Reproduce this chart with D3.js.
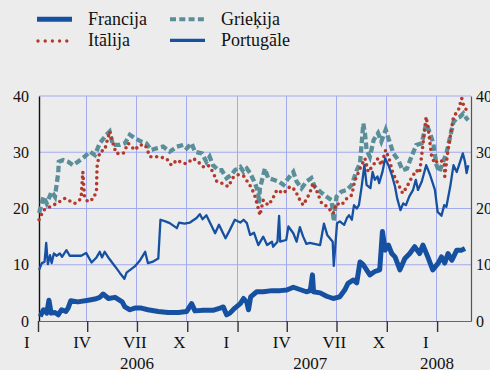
<!DOCTYPE html>
<html>
<head>
<meta charset="utf-8">
<script src="https://cdn.jsdelivr.net/npm/d3@7/dist/d3.min.js"></script>
<style>
  html, body { margin: 0; padding: 0; background: #ececec; }
  svg { display: block; }
  text { font-family: "Liberation Serif", "Times New Roman", serif; fill: #111; }
</style>
</head>
<body>
<svg id="chart" width="490" height="370"></svg>
<script>
// Spreads against the German benchmark, percentage points
const francija = [
  ["2006-01-05",0.8],["2006-01-11",2.0],["2006-01-17",1.4],["2006-01-21",3.7],["2006-01-25",1.4],
  ["2006-02-01",1.5],["2006-02-07",1.1],["2006-02-13",2.0],["2006-02-21",1.7],["2006-02-25",2.3],
  ["2006-03-02",3.6],["2006-03-15",3.4],["2006-04-03",3.7],["2006-04-15",3.9],["2006-04-24",4.2],
  ["2006-04-30",4.8],["2006-05-10",4.0],["2006-05-22",4.2],["2006-06-04",3.4],["2006-06-09",2.5],
  ["2006-06-18",2.0],["2006-06-27",2.3],["2006-07-09",2.3],["2006-07-21",2.0],["2006-08-09",1.7],
  ["2006-08-27",1.5],["2006-09-15",1.5],["2006-09-30",1.7],["2006-10-09",3.1],["2006-10-15",1.8],
  ["2006-10-30",1.9],["2006-11-17",1.9],["2006-11-30",2.3],["2006-12-06",2.5],["2006-12-12",1.1],
  ["2006-12-18",1.4],["2006-12-27",2.3],["2007-01-06",3.1],["2007-01-12",4.0],["2007-01-18",3.3],
  ["2007-01-21",2.0],["2007-01-25",4.3],["2007-02-05",5.2],["2007-02-17",5.2],["2007-03-05",5.4],
  ["2007-03-20",5.4],["2007-04-01",5.5],["2007-04-13",6.0],["2007-04-25",5.6],["2007-05-07",5.2],
  ["2007-05-14",5.4],["2007-05-18",8.2],["2007-05-20",5.2],["2007-06-01",5.0],["2007-06-13",4.4],
  ["2007-06-25",4.0],["2007-07-07",4.3],["2007-07-16",5.5],["2007-07-22",6.7],["2007-08-01",7.3],
  ["2007-08-07",6.8],["2007-08-13",10.5],["2007-08-19",10.0],["2007-08-25",9.1],["2007-08-31",8.2],
  ["2007-09-09",8.8],["2007-09-18",9.1],["2007-09-23",15.9],["2007-09-28",12.6],["2007-10-04",13.5],
  ["2007-10-10",12.0],["2007-10-16",11.4],["2007-10-25",9.1],["2007-11-03",11.1],["2007-11-12",12.0],
  ["2007-11-21",13.2],["2007-11-30",12.0],["2007-12-06",13.5],["2007-12-15",11.4],["2007-12-24",9.1],
  ["2008-01-03",10.3],["2008-01-09",11.4],["2008-01-15",10.3],["2008-01-21",12.0],["2008-01-28",10.8],
  ["2008-02-06",12.6],["2008-02-15",12.6],["2008-02-21",12.9]
];

const italija = [
  ["2006-01-03",18.0],["2006-01-11",19.7],["2006-01-23",20.3],["2006-02-04",20.9],["2006-02-19",21.8],
  ["2006-03-03",21.2],["2006-03-09",20.9],["2006-03-18",21.5],["2006-03-21",22.1],["2006-03-24",26.5],
  ["2006-03-27",22.1],["2006-04-02",21.2],["2006-04-13",21.8],["2006-04-18",23.3],["2006-04-19",27.4],
  ["2006-04-24",30.1],["2006-05-03",30.4],["2006-05-12",33.7],["2006-05-18",31.6],["2006-05-24",29.8],
  ["2006-06-06",29.8],["2006-06-15",31.6],["2006-06-27",30.4],["2006-07-06",31.3],["2006-07-16",31.3],
  ["2006-07-25",29.2],["2006-08-09",29.2],["2006-08-24",28.9],["2006-09-02",27.7],["2006-09-12",28.6],
  ["2006-09-24",28.0],["2006-09-30",28.0],["2006-10-12",28.9],["2006-10-21",28.3],["2006-10-30",27.4],
  ["2006-11-08",27.7],["2006-11-17",26.5],["2006-11-24",24.8],["2006-12-03",24.5],["2006-12-15",23.9],
  ["2006-12-24",25.5],["2007-01-02",26.0],["2007-01-12",25.8],["2007-01-21",24.5],["2007-01-27",23.6],
  ["2007-02-02",22.1],["2007-02-08",20.0],["2007-02-11",18.8],["2007-02-17",21.5],["2007-02-26",20.6],
  ["2007-03-05",21.5],["2007-03-14",23.3],["2007-03-26",22.7],["2007-04-07",23.9],["2007-04-16",23.3],
  ["2007-04-25",21.5],["2007-05-01",20.6],["2007-05-13",22.7],["2007-05-19",24.5],["2007-05-25",23.3],
  ["2007-06-04",20.9],["2007-06-13",20.4],["2007-06-25",19.1],["2007-07-01",20.9],["2007-07-10",20.6],
  ["2007-07-20",21.8],["2007-07-29",22.4],["2007-08-03",24.8],["2007-08-13",27.1],["2007-08-22",28.9],
  ["2007-08-28",26.5],["2007-09-06",27.7],["2007-09-15",28.9],["2007-09-21",27.7],["2007-09-29",30.4],
  ["2007-10-06",28.6],["2007-10-12",26.3],["2007-10-21",24.5],["2007-10-30",22.7],["2007-11-07",23.9],
  ["2007-11-15",25.4],["2007-11-24",26.8],["2007-11-30",26.3],["2007-12-12",36.3],["2007-12-16",34.0],
  ["2007-12-22",29.2],["2007-12-28",28.0],["2008-01-03",28.6],["2008-01-14",28.3],["2008-01-15",25.7],
  ["2008-01-21",30.4],["2008-01-31",36.3],["2008-02-09",37.5],["2008-02-15",39.6],["2008-02-19",38.1],
  ["2008-02-24",37.5]
];

const griekija = [
  ["2006-01-03",19.2],["2006-01-11",22.1],["2006-01-17",20.9],["2006-01-26",23.0],["2006-02-01",22.1],
  ["2006-02-07",26.3],["2006-02-08",28.3],["2006-02-16",28.6],["2006-02-25",28.3],["2006-03-06",27.7],
  ["2006-03-15",28.3],["2006-03-27",29.2],["2006-04-06",30.1],["2006-04-15",29.5],["2006-04-24",31.6],
  ["2006-05-06",33.1],["2006-05-12",33.7],["2006-05-18",31.3],["2006-05-31",31.3],["2006-06-09",31.6],
  ["2006-06-18",33.1],["2006-06-27",32.5],["2006-07-09",31.9],["2006-07-18",31.6],["2006-07-27",30.4],
  ["2006-08-06",30.7],["2006-08-18",31.0],["2006-08-30",30.1],["2006-09-12",31.0],["2006-09-24",31.3],
  ["2006-09-30",30.7],["2006-10-09",31.6],["2006-10-15",30.1],["2006-10-28",29.8],["2006-11-05",28.3],
  ["2006-11-11",29.2],["2006-11-17",27.7],["2006-11-27",26.8],["2006-12-03",26.8],["2006-12-12",25.4],
  ["2006-12-21",26.0],["2006-12-27",26.8],["2007-01-06",27.4],["2007-01-12",26.5],["2007-01-18",27.1],
  ["2007-01-24",26.3],["2007-02-02",24.5],["2007-02-08",22.7],["2007-02-09",20.9],["2007-02-11",23.6],
  ["2007-02-20",27.1],["2007-02-26",25.4],["2007-03-08",25.1],["2007-03-17",24.8],["2007-03-26",24.2],
  ["2007-04-04",25.4],["2007-04-13",26.5],["2007-04-19",24.8],["2007-04-28",23.6],["2007-05-07",24.8],
  ["2007-05-16",25.4],["2007-05-22",23.9],["2007-06-01",23.0],["2007-06-13",22.1],["2007-06-22",21.5],
  ["2007-06-26",17.7],["2007-07-01",22.1],["2007-07-10",23.0],["2007-07-20",23.3],["2007-07-29",24.2],
  ["2007-08-07",26.8],["2007-08-13",28.0],["2007-08-19",35.1],["2007-08-22",33.4],["2007-08-25",30.4],
  ["2007-08-31",29.2],["2007-09-07",32.2],["2007-09-15",33.4],["2007-09-21",31.9],["2007-09-29",34.0],
  ["2007-10-06",31.9],["2007-10-13",29.8],["2007-10-22",28.6],["2007-10-30",26.8],["2007-11-07",27.1],
  ["2007-11-15",29.2],["2007-11-24",31.3],["2007-12-04",31.6],["2007-12-12",35.1],["2007-12-19",33.4],
  ["2007-12-25",31.6],["2007-12-31",27.7],["2008-01-05",26.5],["2008-01-12",28.3],["2008-01-18",29.8],
  ["2008-01-25",32.8],["2008-01-31",35.4],["2008-02-06",36.0],["2008-02-12",36.3],["2008-02-18",36.9],
  ["2008-02-24",36.0],["2008-02-27",35.7]
];

const portugale = [
  ["2006-01-03",9.1],["2006-01-08",10.3],["2006-01-13",10.5],["2006-01-16",13.9],["2006-01-19",10.1],
  ["2006-01-23",11.7],["2006-01-26",10.3],["2006-01-30",12.0],["2006-02-04",11.6],["2006-02-10",12.0],
  ["2006-02-14",11.4],["2006-02-22",12.6],["2006-02-28",11.6],["2006-03-21",11.6],["2006-03-30",12.1],
  ["2006-04-09",10.4],["2006-04-18",11.3],["2006-04-24",12.3],["2006-04-28",11.3],["2006-05-03",12.3],
  ["2006-05-11",11.1],["2006-05-22",9.7],["2006-05-31",8.5],["2006-06-08",7.5],["2006-06-12",8.6],
  ["2006-06-27",9.7],["2006-07-06",10.7],["2006-07-16",12.3],["2006-07-21",10.3],["2006-07-29",10.5],
  ["2006-08-09",11.1],["2006-08-13",18.0],["2006-08-22",17.7],["2006-08-30",17.4],["2006-09-12",16.5],
  ["2006-09-16",17.5],["2006-09-26",17.3],["2006-10-06",17.5],["2006-10-18",18.3],["2006-10-24",19.0],
  ["2006-10-29",18.1],["2006-11-05",18.8],["2006-11-21",15.6],["2006-11-28",17.1],["2006-12-10",14.7],
  ["2006-12-18",16.2],["2006-12-27",18.0],["2007-01-06",17.5],["2007-01-12",18.0],["2007-01-18",17.4],
  ["2007-01-24",15.3],["2007-01-31",15.7],["2007-02-08",13.5],["2007-02-17",15.0],["2007-02-24",13.5],
  ["2007-03-05",14.1],["2007-03-07",13.2],["2007-03-15",14.1],["2007-03-18",18.7],["2007-03-20",14.1],
  ["2007-03-31",14.4],["2007-04-04",16.8],["2007-04-13",15.6],["2007-04-19",14.1],["2007-04-25",16.7],
  ["2007-05-01",15.0],["2007-05-07",13.7],["2007-05-13",13.9],["2007-06-01",13.5],["2007-06-08",17.3],
  ["2007-06-14",15.3],["2007-06-24",14.1],["2007-06-26",9.8],["2007-07-02",17.4],["2007-07-07",17.7],
  ["2007-07-15",17.1],["2007-07-20",18.3],["2007-07-24",18.8],["2007-07-29",18.0],["2007-08-02",20.6],
  ["2007-08-07",20.0],["2007-08-11",20.6],["2007-08-16",23.9],["2007-08-21",27.7],["2007-08-25",24.2],
  ["2007-09-01",23.6],["2007-09-05",26.5],["2007-09-09",25.1],["2007-09-14",25.7],["2007-09-17",24.5],
  ["2007-09-23",26.5],["2007-09-28",28.9],["2007-10-04",27.7],["2007-10-10",26.0],["2007-10-16",23.9],
  ["2007-10-20",21.8],["2007-10-26",19.7],["2007-10-31",20.9],["2007-11-05",20.6],["2007-11-11",22.1],
  ["2007-11-18",23.3],["2007-11-23",25.1],["2007-11-27",23.3],["2007-12-04",24.8],["2007-12-12",27.7],
  ["2007-12-19",26.0],["2007-12-28",23.3],["2008-01-02",19.4],["2008-01-09",18.7],["2008-01-14",20.6],
  ["2008-01-18",20.3],["2008-01-25",23.9],["2008-01-31",27.7],["2008-02-06",26.5],["2008-02-12",28.3],
  ["2008-02-17",29.8],["2008-02-21",28.3],["2008-02-24",26.3],["2008-02-27",27.7]
];

const yTicks = [0, 10, 20, 30, 40];
const quarterDates = ["2006-01-01","2006-04-01","2006-07-01","2006-10-01","2007-01-01",
                      "2007-04-01","2007-07-01","2007-10-01","2008-01-01"];
const quarterLabels = ["I","IV","VII","X","I","IV","VII","X","I"];
const yearDates = ["2006-07-01","2007-05-14","2008-01-01"];
const yearLabels = ["2006","2007","2008"];

(function draw() {
  const parse = d3.timeParse("%Y-%m-%d");
  const svg = d3.select("#chart");

  const pLeft = 39, pRight = 471, pTop = 96, pBottom = 321;
  const x = d3.scaleTime()
    .domain([parse("2006-01-01"), parse("2008-03-03")])
    .range([38, 471]);
  const y = d3.scaleLinear().domain([0, 40]).range([pBottom, pTop]);

  const blue = "#1650a0", teal = "#5a8e99", red = "#b4392b", grid = "#a3aaee";

  // grid
  const g = svg.append("g");
  g.selectAll("line.h").data(yTicks.slice(1)).join("line")
    .attr("x1", pLeft).attr("x2", pRight)
    .attr("y1", d => y(d)).attr("y2", d => y(d))
    .attr("stroke", grid).attr("stroke-width", 1);
  g.selectAll("line.v").data(quarterDates.slice(1)).join("line")
    .attr("x1", d => Math.round(x(parse(d))) - 0.5).attr("x2", d => Math.round(x(parse(d))) - 0.5)
    .attr("y1", pTop).attr("y2", pBottom)
    .attr("stroke", grid).attr("stroke-width", 1);

  // axes
  const yl = svg.append("g").attr("transform", `translate(${pLeft},0)`)
    .call(d3.axisLeft(y).tickValues(yTicks).tickSize(0).tickPadding(10));
  yl.select(".domain").attr("stroke", "#111").attr("stroke-width", 1.4);
  const yr = svg.append("g").attr("transform", `translate(${pRight},0)`)
    .call(d3.axisRight(y).tickValues(yTicks).tickSize(0).tickPadding(5));
  yr.select(".domain").attr("stroke", "#555").attr("stroke-width", 1.2);
  svg.selectAll(".tick text").attr("font-size", 16)
    .attr("font-family", "'Liberation Serif', 'Times New Roman', serif").attr("fill", "#111");

  const xb = svg.append("g").attr("transform", `translate(0,${pBottom})`)
    .call(d3.axisBottom(x).tickValues(quarterDates.map(parse)).tickSize(11).tickSizeOuter(0).tickFormat(""));
  xb.select(".domain").attr("stroke", "#666").attr("stroke-width", 1.2);
  xb.selectAll(".tick line").attr("stroke", "#333").attr("stroke-width", 1.4);

  svg.append("g").selectAll("text").data(quarterDates).join("text")
    .attr("x", d => x(parse(d)) - 14).attr("y", 348)
    .attr("font-size", 17).attr("text-anchor", "start")
    .text((d, i) => quarterLabels[i]);
  svg.append("g").selectAll("text").data(yearDates).join("text")
    .attr("x", d => x(parse(d))).attr("y", 369)
    .attr("font-size", 17).attr("text-anchor", "middle")
    .text((d, i) => yearLabels[i]);

  // series
  const line = d3.line().x(d => x(parse(d[0]))).y(d => y(d[1]));
  svg.append("path").datum(griekija).attr("d", line)
    .attr("fill", "none").attr("stroke", teal).attr("stroke-width", 4.3)
    .attr("stroke-dasharray", "6.5 3.2");
  svg.append("path").datum(italija).attr("d", line)
    .attr("fill", "none").attr("stroke", red).attr("stroke-width", 3.6)
    .attr("stroke-linecap", "round").attr("stroke-dasharray", "0 5.8");
  svg.append("path").datum(portugale).attr("d", line)
    .attr("fill", "none").attr("stroke", blue).attr("stroke-width", 2.3)
    .attr("stroke-linejoin", "round");
  svg.append("path").datum(francija).attr("d", line)
    .attr("fill", "none").attr("stroke", blue).attr("stroke-width", 5)
    .attr("stroke-linejoin", "round");

  // legend
  const lg = svg.append("g");
  lg.append("line").attr("x1", 37).attr("x2", 72).attr("y1", 19.3).attr("y2", 19.3)
    .attr("stroke", blue).attr("stroke-width", 5);
  lg.append("line").attr("x1", 38).attr("x2", 72).attr("y1", 41).attr("y2", 41)
    .attr("stroke", red).attr("stroke-width", 3.4).attr("stroke-linecap", "round")
    .attr("stroke-dasharray", "0 7.2");
  lg.append("line").attr("x1", 170).attr("x2", 204).attr("y1", 19.3).attr("y2", 19.3)
    .attr("stroke", teal).attr("stroke-width", 4).attr("stroke-dasharray", "6 3.3");
  lg.append("line").attr("x1", 170).attr("x2", 205).attr("y1", 40.3).attr("y2", 40.3)
    .attr("stroke", blue).attr("stroke-width", 3.2);
  const legendText = [["Francija", 88, 25], ["Itālija", 88, 46], ["Grieķija", 221, 25], ["Portugāle", 221, 46]];
  lg.selectAll("text").data(legendText).join("text")
    .attr("x", d => d[1]).attr("y", d => d[2]).attr("font-size", 18).text(d => d[0]);
})();
</script>
</body>
</html>
